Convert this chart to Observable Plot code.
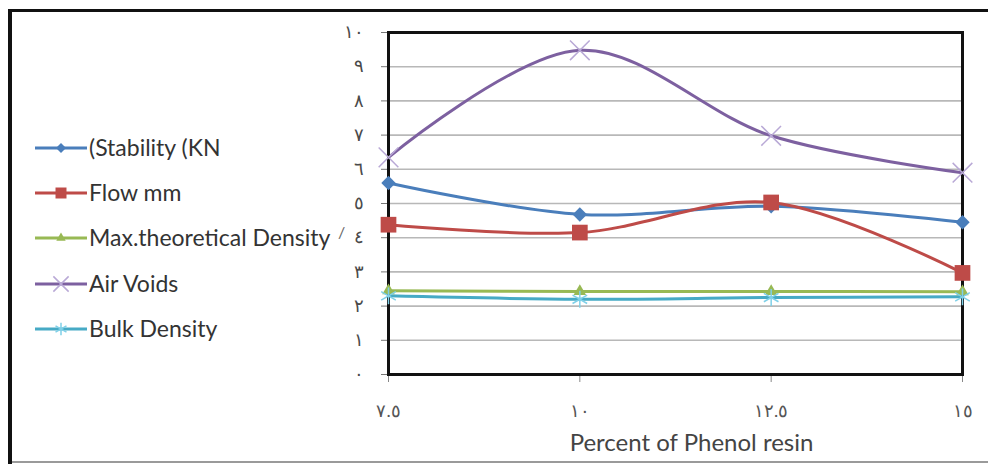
<!DOCTYPE html>
<html>
<head>
<meta charset="utf-8">
<script src="https://cdn.jsdelivr.net/npm/d3@7"></script>
<script src="https://cdn.jsdelivr.net/npm/@observablehq/plot@0.6"></script>
<style>
  html, body { margin: 0; padding: 0; background: #fff; }
  #wrap { position: relative; width: 988px; height: 464px; overflow: hidden; font-family: Lato, "Open Sans", sans-serif; }
  #wrap svg.plot { position: absolute; left: 0; top: 0; }
  .bt { position: absolute; background: #111; }
  #legend { position: absolute; left: 0; top: 0; }
</style>
</head>
<body>
<div id="wrap"></div>
<script>
const percent = [7.5, 10, 12.5, 15];
const xTickLabels = ["٧.٥", "١٠", "١٢.٥", "١٥"];
const yTicks = [0,1,2,3,4,5,6,7,8,9,10];
const yTickLabels = ["٠","١","٢","٣","٤","٥","٦","٧","٨","٩","١٠"];

const seriesNames = ["(Stability (KN", "Flow mm", "Max.theoretical Density", "Air Voids", "Bulk Density"];
const stability   = [5.6, 4.68, 4.92, 4.45];
const flow        = [4.38, 4.15, 5.03, 2.97];
const maxDensity  = [2.45, 2.43, 2.43, 2.42];
const airVoids    = [6.35, 9.48, 6.98, 5.9];
const bulkDensity = [2.3, 2.2, 2.25, 2.27];

const colors  = ["#4A7EBB", "#BE4B48", "#98B954", "#7D60A0", "#46AAC5"];
const markerColors = ["#4A7EBB", "#BE4B48", "#98B954", "#B9A9D6", "#7FD0E8"];
const symbols = ["diamond2", "square2", "triangle2", "times", "asterisk"];
const markerR = [6.5, 10, 6, 9, 8];
const legendR = [4.5, 7, 4.5, 7, 6];
const filled  = [true, true, true, false, false];

const seriesValues = [stability, flow, maxDensity, airVoids, bulkDensity];
const rows = [];
seriesNames.forEach((name, i) => {
  percent.forEach((p, j) => rows.push({series: name, idx: i, x: p, y: seriesValues[i][j]}));
});

const marks = [
  Plot.ruleY(yTicks, {y: d => d, stroke: "#b8b8b8", strokeWidth: 1.6}),
  Plot.axisY({ticks: yTicks, tickFormat: (d) => yTickLabels[yTicks.indexOf(d)], tickSize: 7, tickPadding: 18,
    fontSize: 18, fill: "#4a4a4a", stroke: "#777", label: null}),
  Plot.axisX({ticks: percent, tickFormat: d => xTickLabels[percent.indexOf(d)], tickSize: 8, tickPadding: 22,
    fontSize: 18, fill: "#555", stroke: "#888", label: null}),
];
seriesNames.forEach((name, i) => {
  const data = rows.filter(r => r.idx === i);
  marks.push(Plot.line(data, {x: "x", y: "y", stroke: colors[i], strokeWidth: 3, curve: "catmull-rom"}));
});
marks.push(Plot.frame({stroke: "#111", strokeWidth: 3}));
seriesNames.forEach((name, i) => {
  const data = rows.filter(r => r.idx === i);
  marks.push(Plot.dot(data, {x: "x", y: "y", symbol: () => symbols[i], r: markerR[i],
    fill: filled[i] ? markerColors[i] : "none", stroke: markerColors[i], strokeWidth: filled[i] ? 0 : 1.5}));
});
marks.push(Plot.text(["Percent of Phenol resin"], {frameAnchor: "bottom", dy: 69, dx: 16, text: d => d,
  fontSize: 24, fill: "#444", lineAnchor: "middle"}));

const chart = Plot.plot({
  width: 988, height: 464,
  marginLeft: 388, marginRight: 26, marginTop: 32, marginBottom: 90,
  x: {domain: [7.5, 15]},
  y: {domain: [0, 10]},
  style: {fontFamily: "Lato, 'Open Sans', sans-serif", background: "transparent", overflow: "visible"},
  marks
});
chart.classList.add("plot");
const wrap = document.getElementById("wrap");
wrap.appendChild(chart);

// outer border pieces
[{l:8,t:9,w:980,h:3},{l:8,t:9,w:4,h:455}].forEach(b => {
  const d = document.createElement("div"); d.className = "bt";
  Object.assign(d.style, {left:b.l+"px", top:b.t+"px", width:b.w+"px", height:b.h+"px"});
  wrap.appendChild(d);
});
const bb = document.createElement("div"); bb.className = "bt";
Object.assign(bb.style, {left:"12px", top:"461px", width:"976px", height:"2px", background:"#9a9a9a"});
wrap.appendChild(bb);

// legend
const lg = d3.select(wrap).append("svg").attr("id", "legend").attr("width", 360).attr("height", 464);
const legendY = [148, 193, 238, 284, 329];
seriesNames.forEach((name, i) => {
  const g = lg.append("g").attr("transform", `translate(0,${legendY[i]})`);
  g.append("line").attr("x1", 35).attr("x2", 87).attr("y1", 0).attr("y2", 0)
    .attr("stroke", colors[i]).attr("stroke-width", 3);
  const sym = {diamond2: d3.symbolDiamond2, square2: d3.symbolSquare2, triangle2: d3.symbolTriangle2,
               times: d3.symbolTimes, asterisk: d3.symbolAsterisk}[symbols[i]];
  const s = legendR[i];
  g.append("path").attr("d", d3.symbol(sym, s * s * Math.PI)())
    .attr("transform", "translate(61,0)")
    .attr("fill", filled[i] ? markerColors[i] : "none")
    .attr("stroke", markerColors[i]).attr("stroke-width", filled[i] ? 0 : 1.5);
  g.append("text").attr("x", 89).attr("y", 0).attr("dy", "0.35em")
    .attr("font-size", 23).attr("fill", "#333").attr("font-family", "Lato, 'Open Sans', sans-serif")
    .text(name);
});
lg.append("text").attr("x", 338).attr("y", 232).attr("dy", "0.35em").attr("font-size", 16)
  .attr("fill", "#666").text("/");
</script>
</body>
</html>
